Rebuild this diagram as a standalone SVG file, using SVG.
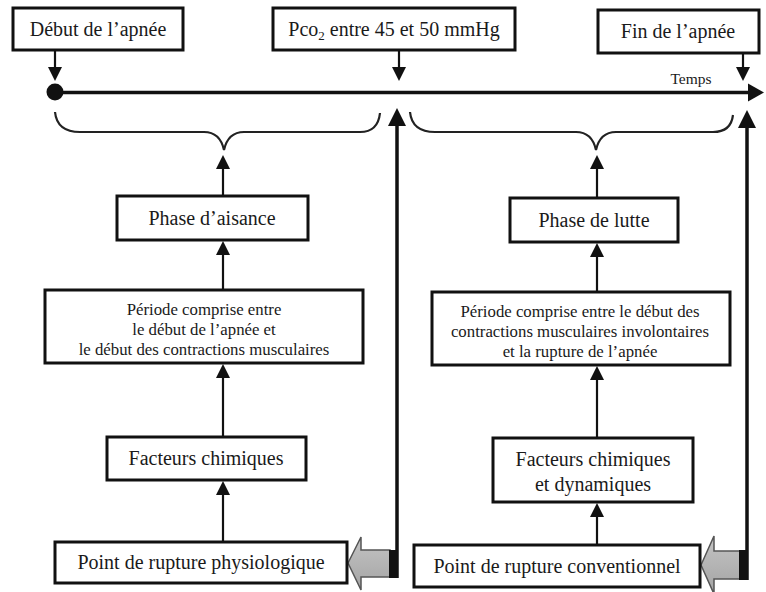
<svg xmlns="http://www.w3.org/2000/svg" width="766" height="592" viewBox="0 0 766 592">
<defs>
<style>
.box{fill:#fff;stroke:#111;stroke-width:3}
.t{font-family:"Liberation Serif","Times New Roman",serif;font-size:20px;fill:#1a1a1a;text-anchor:middle}
.s{font-size:16.8px}
.sm{font-size:15.5px}
.ln{stroke:#111;stroke-width:2.2;fill:none}
.thick{stroke:#111;stroke-width:3.5;fill:none}
.brace{stroke:#222;stroke-width:2.2;fill:none}
.head{fill:#111}
</style>
<linearGradient id="g" x1="0" y1="0" x2="0" y2="1">
<stop offset="0" stop-color="#c4c4c4"/><stop offset="1" stop-color="#a4a4a4"/>
</linearGradient>
</defs>
<rect width="766" height="592" fill="#fff"/>

<g id="connectors">
<line class="thick" x1="55" y1="92.5" x2="752" y2="92.5"/>
<polygon class="head" points="764,92.5 748,83.5 748,101.5"/>
<circle cx="55" cy="92" r="8.5" fill="#111"/>
<line class="ln" x1="55" y1="51" x2="55" y2="70"/>
<polygon class="head" points="55,81 48,67 62,67"/>
<line class="ln" x1="399" y1="50" x2="399" y2="70"/>
<polygon class="head" points="399,81 392,67 406,67"/>
<line class="ln" x1="743" y1="53" x2="743" y2="70"/>
<polygon class="head" points="743,81 736,67 750,67"/>
<path class="brace" d="M55,112 Q57,132 80,132 L204,132 Q220,132 224,150 Q228,132 244,132 L360,132 Q378,132 380,113"/>
<path class="brace" d="M410,112 Q412,132 435,132 L576,132 Q592,132 596,150 Q600,132 616,132 L713,132 Q731,132 733,115"/>
<line class="ln" x1="223" y1="196" x2="223" y2="166"/>
<polygon class="head" points="223,155 216,169 230,169"/>
<line class="ln" x1="223" y1="290" x2="223" y2="252"/>
<polygon class="head" points="223,241 216,255 230,255"/>
<line class="ln" x1="223" y1="437" x2="223" y2="375"/>
<polygon class="head" points="223,364 216,378 230,378"/>
<line class="ln" x1="223" y1="542" x2="223" y2="492"/>
<polygon class="head" points="223,481 216,495 230,495"/>
<line class="ln" x1="597" y1="198" x2="597" y2="166"/>
<polygon class="head" points="597,155 590,169 604,169"/>
<line class="ln" x1="597" y1="292" x2="597" y2="254"/>
<polygon class="head" points="597,243 590,257 604,257"/>
<line class="ln" x1="597" y1="438" x2="597" y2="377"/>
<polygon class="head" points="597,366 590,380 604,380"/>
<line class="ln" x1="597" y1="545" x2="597" y2="514"/>
<polygon class="head" points="597,503 590,517 604,517"/>
<line class="thick" x1="397" y1="578" x2="397" y2="122"/>
<polygon class="head" points="397,108 388,126 406,126"/>
<line class="thick" x1="747" y1="580" x2="747" y2="124"/>
<polygon class="head" points="747,110 738,128 756,128"/>
<polygon points="348,563 361,537 361,550 390,550 390,577 361,577 361,590" fill="url(#g)" stroke="#555" stroke-width="1.5"/>
<rect x="389" y="550" width="9" height="28" fill="#111"/>
<polygon points="701,565 714,536 714,551 740,551 740,579 714,579 714,594" fill="url(#g)" stroke="#555" stroke-width="1.5"/>
<rect x="739" y="550" width="9" height="30" fill="#111"/>
</g>

<g id="n-debut"><rect class="box" x="13" y="8" width="170" height="42"/><text class="t" x="98" y="36">Début de l’apnée</text></g>
<g id="n-pco2"><rect class="box" x="273" y="8" width="242" height="42"/><text class="t" x="394" y="36">Pco<tspan font-size="13" dy="4">2</tspan><tspan dy="-4"> entre 45 et 50 mmHg</tspan></text></g>
<g id="n-fin"><rect class="box" x="598" y="10" width="161" height="43"/><text class="t" x="678" y="38">Fin de l’apnée</text></g>
<g id="n-temps"><text class="t sm" x="691" y="84">Temps</text></g>

<g id="n-aisance"><rect class="box" x="117" y="196" width="191" height="44"/><text class="t" x="212" y="225">Phase d’aisance</text></g>
<g id="n-periode1"><rect class="box" x="45" y="290" width="318" height="73"/>
<text class="t s" x="204" y="315">Période comprise entre</text>
<text class="t s" x="204" y="335">le début de l’apnée et</text>
<text class="t s" x="204" y="355">le début des contractions musculaires</text></g>
<g id="n-chim1"><rect class="box" x="107" y="437" width="199" height="43"/><text class="t" x="206" y="465">Facteurs chimiques</text></g>
<g id="n-rupt1"><rect class="box" x="55" y="542" width="292" height="41"/><text class="t" x="201" y="569">Point de rupture physiologique</text></g>

<g id="n-lutte"><rect class="box" x="510" y="198" width="168" height="44"/><text class="t" x="594" y="227">Phase de lutte</text></g>
<g id="n-periode2"><rect class="box" x="432" y="292" width="298" height="73"/>
<text class="t s" x="580" y="317">Période comprise entre le début des</text>
<text class="t s" x="580" y="337">contractions musculaires involontaires</text>
<text class="t s" x="580" y="357">et la rupture de l’apnée</text></g>
<g id="n-chim2"><rect class="box" x="493" y="438" width="200" height="64"/>
<text class="t" x="593" y="466">Facteurs chimiques</text>
<text class="t" x="593" y="491">et dynamiques</text></g>
<g id="n-rupt2"><rect class="box" x="414" y="545" width="286" height="42"/><text class="t" x="557" y="573">Point de rupture conventionnel</text></g>
</svg>
